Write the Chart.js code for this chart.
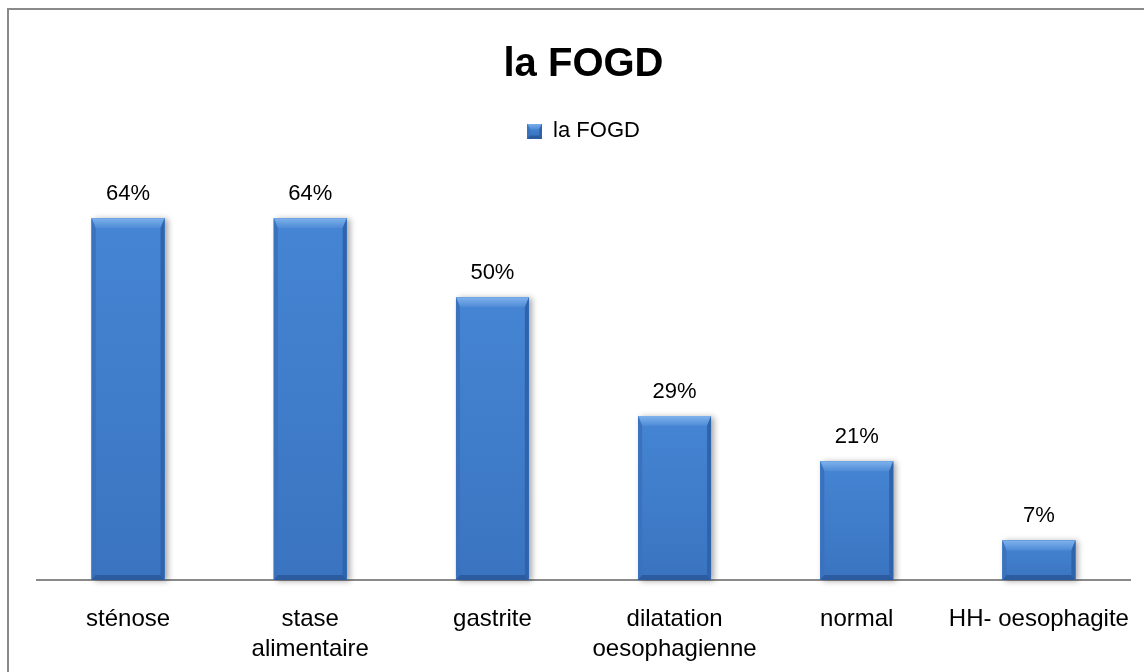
<!DOCTYPE html>
<html>
<head>
<meta charset="utf-8">
<script src="https://cdn.jsdelivr.net/npm/chart.js@4"></script>
<style>
  html, body { margin: 0; padding: 0; background: #fff; }
  #wrap { width: 1144px; height: 672px; }
</style>
</head>
<body>
<div id="wrap"><canvas id="c" width="1144" height="672"></canvas></div>
<script>
const categories = [
  'sténose',
  ['stase', 'alimentaire'],
  'gastrite',
  ['dilatation', 'oesophagienne'],
  'normal',
  'HH- oesophagite'
];
const seriesName = 'la FOGD';
const values = [64, 64, 50, 29, 21, 7];

const FONT = '"Liberation Sans", Arial, sans-serif';
const BAR_COLOR = '#3f7dcc';

// Draws a bevelled box (face, lit top edge, darker sides and bottom)
function drawBevelBox(ctx, l, r, t, b, tb, sb, bb) {
  const face = ctx.createLinearGradient(0, t, 0, b);
  face.addColorStop(0, '#4585d3');
  face.addColorStop(1, '#3a74c0');
  ctx.fillStyle = face;
  ctx.fillRect(l, t, r - l, b - t);
  const g = ctx.createLinearGradient(0, t, 0, t + tb);
  g.addColorStop(0, '#7fb2ec');
  g.addColorStop(1, '#4d8ad6');
  ctx.fillStyle = g;
  ctx.beginPath();
  ctx.moveTo(l, t); ctx.lineTo(r, t); ctx.lineTo(r - sb, t + tb); ctx.lineTo(l + sb, t + tb);
  ctx.closePath(); ctx.fill();
  ctx.fillStyle = '#3a72bd';
  ctx.beginPath();
  ctx.moveTo(l, t); ctx.lineTo(l + sb, t + tb); ctx.lineTo(l + sb, b - bb); ctx.lineTo(l, b);
  ctx.closePath(); ctx.fill();
  ctx.fillStyle = '#2f64ad';
  ctx.beginPath();
  ctx.moveTo(r, t); ctx.lineTo(r - sb, t + tb); ctx.lineTo(r - sb, b - bb); ctx.lineTo(r, b);
  ctx.closePath(); ctx.fill();
  ctx.fillStyle = '#2c5c9f';
  ctx.beginPath();
  ctx.moveTo(l, b); ctx.lineTo(l + sb, b - bb); ctx.lineTo(r - sb, b - bb); ctx.lineTo(r, b);
  ctx.closePath(); ctx.fill();
}

// Small bevelled swatch for the legend
const legendSwatch = document.createElement('canvas');
legendSwatch.width = 15;
legendSwatch.height = 15;
drawBevelBox(legendSwatch.getContext('2d'), 0, 15, 0, 15, 6, 3, 3);

// Outer frame of the chart
const framePlugin = {
  id: 'frame',
  beforeDraw(chart) {
    const ctx = chart.ctx;
    ctx.save();
    ctx.fillStyle = '#fff';
    ctx.fillRect(0, 0, chart.width, chart.height);
    ctx.strokeStyle = '#8a8a8a';
    ctx.lineWidth = 2;
    ctx.strokeRect(8, 9, chart.width + 20, chart.height + 20);
    ctx.restore();
  }
};

// Bevelled look for each bar, a soft drop shadow and the value labels
const bevelPlugin = {
  id: 'bevel',
  beforeDatasetsDraw(chart) {
    const ctx = chart.ctx;
    const meta = chart.getDatasetMeta(0);
    ctx.save();
    meta.data.forEach(bar => {
      const l = bar.x - bar.width / 2, w = bar.width;
      ctx.shadowColor = 'rgba(0,0,0,0.35)';
      ctx.shadowBlur = 6;
      ctx.shadowOffsetX = 3;
      ctx.shadowOffsetY = 1;
      ctx.fillStyle = BAR_COLOR;
      ctx.fillRect(l, bar.y, w, bar.base - bar.y);
    });
    ctx.restore();
  },
  afterDatasetsDraw(chart) {
    const ctx = chart.ctx;
    const meta = chart.getDatasetMeta(0);
    const data = chart.data.datasets[0].data;
    ctx.save();
    meta.data.forEach((bar, i) => {
      const l = bar.x - bar.width / 2, r = bar.x + bar.width / 2;
      const t = bar.y, b = bar.base;
      drawBevelBox(ctx, l, r, t, b, Math.min(10, (b - t) / 3), 4, Math.min(5, (b - t) / 4));
      ctx.fillStyle = '#000';
      ctx.font = '22px ' + FONT;
      ctx.textAlign = 'center';
      ctx.textBaseline = 'alphabetic';
      ctx.fillText(data[i] + '%', bar.x, t - 18);
    });
    ctx.restore();
  }
};

new Chart(document.getElementById('c'), {
  type: 'bar',
  data: {
    labels: categories,
    datasets: [{
      label: seriesName,
      data: values,
      backgroundColor: BAR_COLOR,
      borderWidth: 0,
      categoryPercentage: 1,
      barPercentage: 0.40,
      pointStyle: legendSwatch
    }]
  },
  options: {
    responsive: false,
    animation: false,
    layout: { padding: { left: 37, right: 14, top: 0, bottom: 0 } },
    plugins: {
      title: {
        display: true,
        text: 'la FOGD',
        color: '#000',
        font: { family: FONT, size: 40, weight: 'bold' },
        padding: { top: 41, bottom: 21 }
      },
      legend: {
        display: true,
        labels: {
          color: '#000',
          font: { family: FONT, size: 22 },
          usePointStyle: true,
          boxWidth: 15,
          boxHeight: 15,
          padding: 10
        }
      },
      tooltip: { enabled: false }
    },
    scales: {
      x: {
        grid: { display: false, drawTicks: false },
        border: { display: true, color: '#8a8a8a', width: 2 },
        ticks: {
          color: '#000',
          font: { family: FONT, size: 24, lineHeight: 1.25 },
          padding: 24,
          maxRotation: 0,
          autoSkip: false
        },
        afterFit(scale) {
          scale.height = 92;
          scale.paddingLeft = 0;
          scale.paddingRight = 0;
        }
      },
      y: {
        display: false,
        min: 0,
        max: 75.7
      }
    }
  },
  plugins: [framePlugin, bevelPlugin]
});
</script>
</body>
</html>
